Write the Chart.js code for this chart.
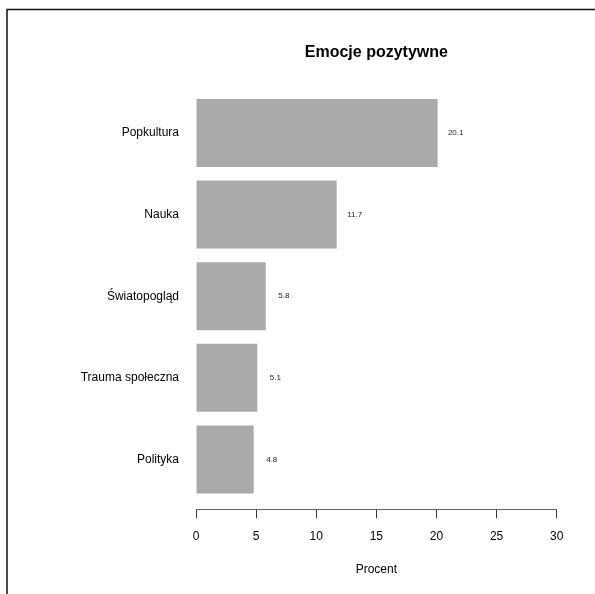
<!DOCTYPE html>
<html>
<head>
<meta charset="utf-8">
<script src="https://cdn.jsdelivr.net/npm/chart.js@4/dist/chart.umd.min.js"></script>
<style>
  html, body { margin: 0; padding: 0; background: #fff; }
  #wrap { position: relative; width: 595px; height: 594px; }
  canvas { display: block; }
</style>
</head>
<body>
<div id="wrap"><canvas id="c" width="595" height="594"></canvas></div>
<script>
const categories = ["Popkultura", "Nauka", "Światopogląd", "Trauma społeczna", "Polityka"];
const values = [20.1, 11.7, 5.8, 5.1, 4.8];
const xTicks = [0, 5, 10, 15, 20, 25, 30];
const titleText = "Emocje pozytywne";
const xLabel = "Procent";

// R barplot bar centres (width 1, space 0.2)
const positions = categories.map((_, i) => 0.7 + 1.2 * i);

const FONT = "'Liberation Sans', Arial, Helvetica, sans-serif";

const framePlugin = {
  id: 'frame',
  afterDraw(chart) {
    const ctx = chart.ctx;
    ctx.save();
    ctx.strokeStyle = '#111';
    ctx.lineWidth = 1.5;
    ctx.beginPath();
    ctx.moveTo(7, 600);
    ctx.lineTo(7, 9.5);
    ctx.lineTo(600, 9.5);
    ctx.stroke();
    ctx.restore();
  }
};

const valueLabels = {
  id: 'valueLabels',
  afterDatasetsDraw(chart) {
    const ctx = chart.ctx;
    const meta = chart.getDatasetMeta(0);
    const xs = chart.scales.x;
    ctx.save();
    ctx.font = "8px " + FONT;
    ctx.fillStyle = '#222';
    ctx.textAlign = 'center';
    ctx.textBaseline = 'middle';
    meta.data.forEach((el, i) => {
      const px = xs.getPixelForValue(values[i] + 1.5);
      ctx.fillText(values[i].toFixed(1), px, el.y);
    });
    ctx.restore();
  }
};

new Chart(document.getElementById('c'), {
  type: 'bar',
  data: {
    datasets: [{
      data: categories.map((c, i) => ({ x: values[i], y: positions[i] })),
      backgroundColor: '#AAAAAA',
      borderWidth: 0,
      categoryPercentage: 1,
      barPercentage: 1 / 1.2
    }]
  },
  options: {
    indexAxis: 'y',
    responsive: false,
    animation: false,
    layout: { padding: { left: 0, right: 38.3, top: 0, bottom: 17 } },
    plugins: {
      legend: { display: false },
      tooltip: { enabled: false },
      title: {
        display: true,
        text: titleText,
        fullSize: false,
        color: '#000',
        font: { family: FONT, size: 16, weight: 'bold' },
        padding: { top: 43.4, bottom: 20.6 }
      }
    },
    scales: {
      x: {
        type: 'linear',
        min: 0,
        max: 30,
        afterBuildTicks(scale) { scale.ticks = xTicks.map(v => ({ value: v })); },
        ticks: {
          color: '#000',
          font: { family: FONT, size: 12 },
          padding: 11,
          maxRotation: 0
        },
        grid: {
          display: true,
          drawOnChartArea: false,
          drawTicks: true,
          tickLength: 9,
          color: '#333',
          lineWidth: 1
        },
        border: { display: true, color: '#666', width: 1 },
        title: {
          display: true,
          text: xLabel,
          color: '#000',
          font: { family: FONT, size: 12 },
          padding: { top: 8, bottom: 0 }
        }
      },
      y: {
        type: 'linear',
        reverse: true,
        offset: false,
        min: 0.2 - 0.232,
        max: 6.0 + 0.232,
        afterBuildTicks(scale) { scale.ticks = positions.map(v => ({ value: v })); },
        afterFit(scale) { scale.width = 196; },
        ticks: {
          autoSkip: false,
          color: '#000',
          font: { family: FONT, size: 12 },
          padding: 9,
          callback: (v, i) => categories[i]
        },
        grid: { display: false, offset: false },
        border: { display: false }
      }
    }
  },
  plugins: [framePlugin, valueLabels]
});
</script>
</body>
</html>
